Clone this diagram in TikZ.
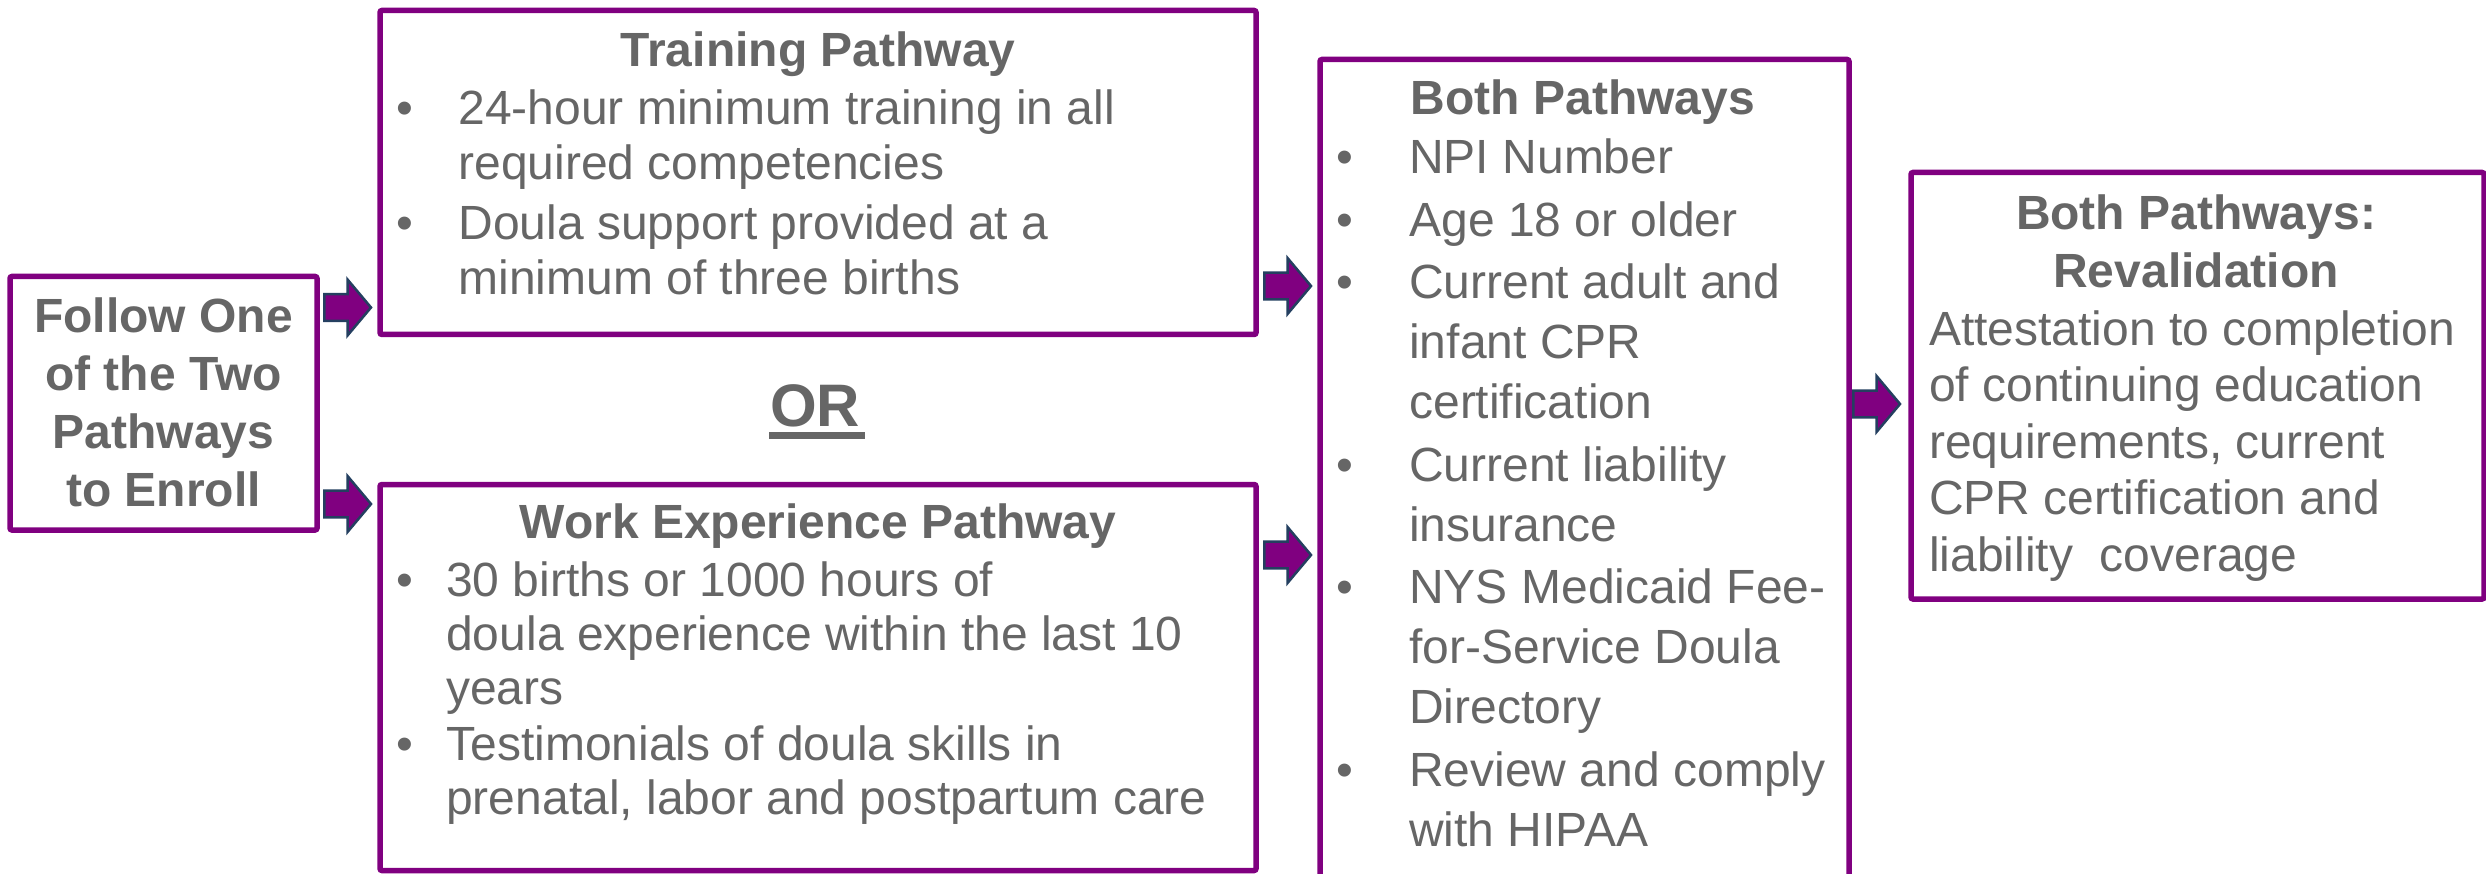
\documentclass[tikz,border=0pt]{standalone}
\usepackage{fontspec}
\setmainfont{Liberation Sans}
\definecolor{ppl}{HTML}{800080}
\definecolor{txtg}{HTML}{666666}
\definecolor{arrb}{HTML}{243F60}
\newcommand\bl[1]{\makebox[#1][l]{\textbullet}}
\newcommand\ind[1]{\hspace*{#1}}
\begin{document}
\begin{tikzpicture}[x=1pt,y=-1pt,
  box/.style={draw=ppl,line width=5.5pt,rounded corners=2pt,inner sep=0pt,fill=none},
  txt/.style={inner sep=0pt,text=txtg,font=\fontsize{48}{55}\selectfont,align=left},
  ttl/.style={inner sep=0pt,text=txtg,font=\fontsize{48}{55}\selectfont\bfseries},
  arrowst/.style={fill=ppl,draw=arrb,line width=2.5pt,line join=miter},
  fatarrow/.pic={\draw[arrowst] (1.3,-13.3) -- (24.5,-13.3) -- (24.5,-28) -- (48,0) -- (24.5,28) -- (24.5,13.3) -- (1.3,13.3) -- cycle;}]
\useasboundingbox (0,0) rectangle (2486,874);
\fill[white] (0,0) rectangle (2486,874);
% boxes
\node[box,minimum width=307pt,minimum height=253.5pt] (lft) at (163.5,403.25) {};
\node[box,minimum width=876pt,minimum height=324pt] (train) at (818,172.5) {};
\node[box,minimum width=876pt,minimum height=386pt] (work) at (818,677.5) {};
\node[box,minimum width=529pt,minimum height=845.5pt] (both) at (1584.5,482.25) {};
\node[box,minimum width=573pt,minimum height=426.5pt] (reval) at (2197.5,385.75) {};
% left text
\node[ttl,align=center,font=\fontsize{48}{58}\selectfont\bfseries,anchor=north] (lftT) at (163.5,292)
  {\rule{0pt}{40pt}Follow One\\of the Two\\Pathways\\to Enroll};
% training
\node[ttl,anchor=base] (trainT) at (818,67) {Training Pathway};
\node[txt,anchor=north west] (trainB) at (396.4,84)
  {\rule{0pt}{40pt}\bl{62pt}24-hour minimum training in all\\
   \ind{62pt}required competencies\\[5pt]
   \bl{62pt}Doula support provided at a\\
   \ind{62pt}minimum of three births};
% OR
\node[ttl,font=\fontsize{60}{60}\selectfont\bfseries,anchor=base] (or) at (815,426) {OR};
\fill[txtg] (769,432) rectangle (865,439);
% work
\node[ttl,anchor=base] (workT) at (818,538) {Work Experience Pathway};
\node[txt,font=\fontsize{48}{54}\selectfont,anchor=north west] (workB) at (396.6,556)
  {\rule{0pt}{40pt}\bl{49.5pt}30 births or 1000 hours of\\
   \ind{49.5pt}doula experience within the last 10\\
   \ind{49.5pt}years\\[2pt]
   \bl{49.5pt}Testimonials of doula skills in\\
   \ind{49.5pt}prenatal, labor and postpartum care};
% both
\node[ttl,anchor=base] (bothT) at (1583,115) {Both Pathways};
\node[txt,font=\fontsize{48}{60}\selectfont,anchor=north west] (bothB) at (1336.6,133)
  {\rule{0pt}{40pt}\bl{72.5pt}NPI Number\\[3pt]
   \bl{72.5pt}Age 18 or older\\[2pt]
   \bl{72.5pt}Current adult and\\
   \ind{72.5pt}infant CPR\\
   \ind{72.5pt}certification\\[3pt]
   \bl{72.5pt}Current liability\\
   \ind{72.5pt}insurance\\[2pt]
   \bl{72.5pt}NYS Medicaid Fee-\\
   \ind{72.5pt}for-Service Doula\\
   \ind{72.5pt}Directory\\[3pt]
   \bl{72.5pt}Review and comply\\
   \ind{72.5pt}with HIPAA};
% revalidation
\node[ttl,align=center,font=\fontsize{48}{58}\selectfont\bfseries,anchor=north] (revalT) at (2196,189)
  {\rule{0pt}{40pt}Both Pathways:\\Revalidation};
\node[txt,font=\fontsize{48}{56.5}\selectfont,anchor=north west] (revalB) at (1929,305)
  {\rule{0pt}{40pt}Attestation to completion\\
   of continuing education\\
   requirements, current\\
   CPR certification and\\
   liability\ \ coverage};
% arrows
\coordinate (a1) at (323,307.5);
\coordinate (a2) at (323,504);
\coordinate (a3) at (1263,286);
\coordinate (a4) at (1263,555);
\coordinate (a5) at (1852,404);
\pic at (a1) {fatarrow};
\pic at (a2) {fatarrow};
\pic at (a3) {fatarrow};
\pic at (a4) {fatarrow};
\pic at (a5) {fatarrow};
\end{tikzpicture}
\end{document}
